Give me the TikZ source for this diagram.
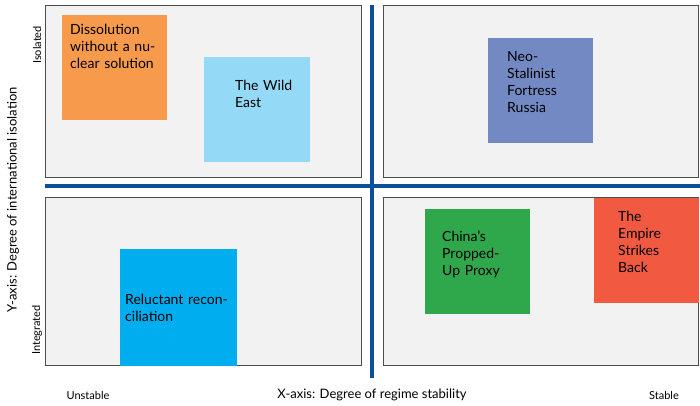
\documentclass[tikz,border=0pt]{standalone}
\usepackage{fontspec}
\setmainfont{Lato}
\begin{document}
\begin{tikzpicture}[x=1pt,y=-1pt,
 quad/.style={draw=black!70,fill=black!5,line width=0.8pt},
 sbox/.style={inner sep=0pt,text width=#1,align=left,font=\fontsize{14}{17}\selectfont},
 axis/.style={draw=axisblue,line width=4pt},
 lab/.style={font=\fontsize{11}{13}\selectfont}]
\definecolor{axisblue}{HTML}{0B4F9C}
\definecolor{cor}{HTML}{F79A4C}
\definecolor{clb}{HTML}{94DAF6}
\definecolor{cpu}{HTML}{7389C4}
\definecolor{ccy}{HTML}{00AEEF}
\definecolor{cgr}{HTML}{2EA84A}
\definecolor{cre}{HTML}{F15A40}
\useasboundingbox (0,0) rectangle (700,406);
\fill[white] (0,0) rectangle (700,406);
\draw[quad] (45,5) rectangle (361,177);
\draw[quad] (383,5) rectangle (698,177);
\draw[quad] (45,197) rectangle (361,365);
\draw[quad] (383,197) rectangle (698,365);
\draw[axis] (45,186) -- (700,186);
\draw[axis] (372,5) -- (372,378);
\fill[cor] (62,15) rectangle (167,120);
\node[sbox=95pt,anchor=north west] (a) at (70,24) {Dissolution without a nuclear solution};
\fill[clb] (204,57) rectangle (310,162);
\node[sbox=70pt,anchor=north west] (b) at (235,80) {The Wild East};
\fill[cpu] (488,38) rectangle (593,143);
\node[sbox=80pt,anchor=north west] (c) at (507,51) {Neo-\\Stalinist Fortress Russia};
\fill[ccy] (120,249) rectangle (237,366);
\node[sbox=110pt,anchor=north west] (d) at (125,294) {Reluctant reconciliation};
\fill[cgr] (425,209) rectangle (530,314);
\node[sbox=90pt,anchor=north west] (e) at (442,231) {China's Propped-\\Up Proxy};
\fill[cre] (594,198) rectangle (699,303);
\node[sbox=60pt,anchor=north west] (f) at (618,211) {The Empire Strikes Back};
\node[lab] (u) at (88,395) {Unstable};
\node[lab] (s) at (664,395) {Stable};
\node[font=\fontsize{13}{15}\selectfont] (x) at (372,395) {X-axis: Degree of regime stability};
\node[font=\fontsize{13}{15}\selectfont,rotate=90] (y) at (13,200) {Y-axis: Degree of international isolation};
\node[lab,rotate=90] (i) at (37,45) {Isolated};
\node[lab,rotate=90] (g) at (37,330) {Integrated};
\end{tikzpicture}
\end{document}
